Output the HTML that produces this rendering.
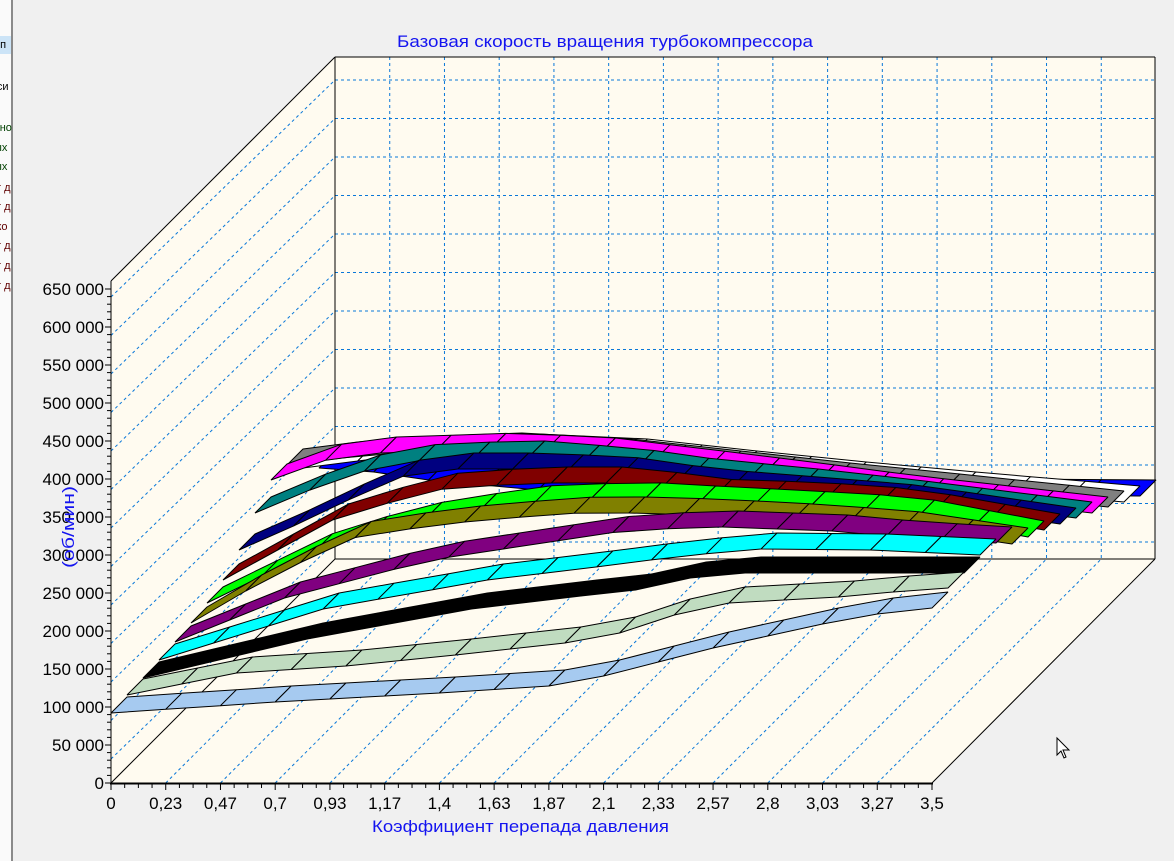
<!DOCTYPE html>
<html><head><meta charset="utf-8"><style>
html,body{margin:0;padding:0;background:#f0f0f0;width:1174px;height:861px;overflow:hidden}
svg{display:block}
text{font-family:"Liberation Sans",sans-serif}
</style></head><body>
<svg id="s" width="1174" height="861" viewBox="0 0 1174 861" xmlns="http://www.w3.org/2000/svg">
<rect x="0" y="0" width="1174" height="861" fill="#f0f0f0"/>
<rect x="0" y="0" width="11" height="861" fill="#fafafa"/>
<rect x="0" y="36" width="11" height="18" fill="#cce4f7"/>
<rect x="11" y="0" width="2" height="861" fill="#8a8a8a"/>
<g font-size="11" fill="#000">
<text x="-6" y="48">ип</text><text x="-8" y="90">кси</text>
<text x="-6" y="131" fill="#004000">ьно</text><text x="-6" y="151" fill="#004000">ых</text><text x="-6" y="170" fill="#004000">ых</text>
<text x="-4" y="191" fill="#600000">т д</text><text x="-4" y="210" fill="#600000">т д</text><text x="-6" y="230" fill="#600000">жо</text>
<text x="-4" y="249" fill="#600000">т д</text><text x="-4" y="269" fill="#600000">т д</text><text x="-4" y="289" fill="#600000">т д</text>
</g>
<defs>
<clipPath id="lw"><polygon points="111,783 111,281 335,57 335,559"/></clipPath>
</defs>
<rect x="335" y="57" width="820" height="502" fill="#fffbf0"/>
<polygon points="111,783 111,281 335,57 335,559" fill="#fffbf0"/>
<polygon points="111,783 932,783 1155,559 335,559" fill="#fffbf0"/>
<g id="grid" stroke="#0a78d8" stroke-width="1" stroke-dasharray="3,3" fill="none"></g>
<g id="frame" stroke="#000" stroke-width="1" fill="none">
<line x1="335" y1="57" x2="1155" y2="57"/>
<line x1="1155" y1="57" x2="1155" y2="559"/>
<line x1="335" y1="57" x2="335" y2="559"/>
<line x1="335" y1="559" x2="1155" y2="559"/>
<line x1="111" y1="281" x2="335" y2="57"/>
<line x1="111" y1="783" x2="335" y2="559"/>
<line x1="932" y1="783" x2="1155" y2="559"/>
<line x1="111" y1="281" x2="111" y2="784"/>
</g>
<g id="rib" stroke="#000" stroke-width="1" stroke-linejoin="bevel"></g>
<line x1="110" y1="783.5" x2="933" y2="783.5" stroke="#000" stroke-width="2"/>
<g id="ticks" stroke="#000" stroke-width="1"></g>
<g id="ylab" font-size="17" fill="#000" text-anchor="end"></g>
<g id="xlab" font-size="17" fill="#000" text-anchor="middle"></g>
<text x="397" y="47" font-size="17" fill="#1414f0" textLength="416" lengthAdjust="spacingAndGlyphs">Базовая скорость вращения турбокомпрессора</text>
<text x="372" y="832" font-size="17" fill="#1414f0" textLength="297" lengthAdjust="spacingAndGlyphs">Коэффициент перепада давления</text>
<text transform="translate(74,568) rotate(-90)" font-size="17" fill="#1414f0" textLength="82" lengthAdjust="spacingAndGlyphs">(об/мин)</text>
<polygon points="1057,738 1057,755 1061,751 1064,758 1066,757 1063,750 1069,750" fill="#fff" stroke="#000" stroke-width="1"/>
</svg>
<script>
var NS="http://www.w3.org/2000/svg";
function el(p,t,a){var e=document.createElementNS(NS,t);for(var k in a)e.setAttribute(k,a[k]);p.appendChild(e);return e;}
var g=document.getElementById('grid');
var XS=54.733;
for(var k=1;k<15;k++){var x=111+XS*k;
 el(g,'line',{x1:x,y1:783,x2:x+224,y2:559});
 el(g,'line',{x1:x+224,y1:57,x2:x+224,y2:559});}
var lwg=el(g,'g',{'clip-path':'url(#lw)'});
for(var j=-1;j<13;j++){var yb=80+38.5*j;
 if(j>=0) el(g,'line',{x1:335,y1:yb,x2:1155,y2:yb});
 el(lwg,'line',{x1:111,y1:yb+217,x2:335,y2:yb});}
var t=document.getElementById('ticks');
var YS=76/100000;
for(var v=0;v<=650000;v+=10000){var y=783-v*YS;var major=(v%50000==0);
 el(t,'line',{x1:major?105:107,y1:y,x2:111,y2:y});}
for(var k=0;k<=60;k++){var x=111+XS*k/4;el(t,'line',{x1:x,y1:784,x2:x,y2:(k%4==0)?790:788});}
var yl=document.getElementById('ylab');
for(var v=0;v<=650000;v+=50000){var y=783-v*YS;var s=v==0?'0':(Math.floor(v/1000)+' 000');
 var tx=el(yl,'text',{x:104,y:y+6});tx.textContent=s;}
var xl=document.getElementById('xlab');
var xs=['0','0,23','0,47','0,7','0,93','1,17','1,4','1,63','1,87','2,1','2,33','2,57','2,8','3,03','3,27','3,5'];
for(var k=0;k<16;k++){var tx=el(xl,'text',{x:111+XS*k,y:809});tx.textContent=xs[k];}
var S=[
['#a6caf0',[[0,713],[3,702],[6,693],[8,686],[9,676],[10,662],[11,648],[12,636],[13,624],[14,614],[15,608]]],
['#c0dcc0',[[0,711],[2,689],[4,682],[6,671],[8,659],[9,649],[10,631],[11,619],[12,616],[13,613],[14,608],[15,604]]],
['#000000',[[0,710],[3,671],[6,641],[8,628],[9,622],[10,610],[11,605],[15,605]]],
['#00ffff',[[0,708],[3,657],[6,628],[8.6,611],[9.5,604],[11,597],[13,598],[15,603]]],
['#800080',[[0,706],[2,662],[4.66,624],[8.3,594],[10,591],[12,595],[13.2,601],[15,607]]],
['#808000',[[0,703],[1.5,655],[3.1,615],[5.3,600],[7.3,592],[9.3,595],[11.1,600],[12.9,607],[15,624]]],
['#00ff00',[[0,699],[2.25,639],[4.1,613],[5.9,598],[7.7,594],[9,598],[10.8,603],[12.7,609],[15,633]]],
['#800000',[[0,692],[2,632],[3.8,602],[5.6,595],[7.4,595],[8.7,607],[10.5,610],[12.4,617],[15,642]]],
['#000080',[[0,678],[1.66,638],[2.6,610],[3.5,597],[5.3,597],[7.1,602],[8.4,613],[10.3,621],[12.1,629],[15,652]]],
['#008080',[[0,657],[1.4,625],[2.3,610],[3.2,603],[5,601],[6.8,609],[8.1,619],[10,629],[11.8,640],[15,662]]],
['#ff00ff',[[0,640],[1.06,619],[2,613],[4.2,609],[6,614],[7.8,626],[9.6,638],[11.4,651],[15,673]]],
['#808080',[[0,641],[1,634],[2,629],[4,625],[6,631],[8,643],[10,655],[12,666],[15,683]]],
['#ffffff',[[0,660],[2,646],[4,642],[6,647],[8,659],[10,670],[12,680],[15,694]]],
['#0000ff',[[0,676],[1,680],[2,688],[4,698],[10,702],[15,704]]]
];
function interp(kn,k){for(var i=0;i<kn.length-1;i++){if(k>=kn[i][0]&&k<=kn[i+1][0]){var a=kn[i],b=kn[i+1];return a[1]+(b[1]-a[1])*(k-a[0])/(b[0]-a[0]);}}return kn[kn.length-1][1];}
var r=document.getElementById('rib');
var D=16;
for(var i=S.length-1;i>=0;i--){
 var col=S[i][0],kn=S[i][1];var pts=[];
 for(var k=0;k<16;k++){pts.push(interp(kn,k));}
 var gg=el(r,'g',{fill:col});
 for(var k=0;k<15;k++){
  var x0=111+XS*k,x1=111+XS*(k+1),y0=pts[k],y1=pts[k+1];
  var d0=D*i,d1=D*(i+1);
  var p=[[x0+d0,y0-d0],[x1+d0,y1-d0],[x1+d1,y1-d1],[x0+d1,y0-d1]];
  el(gg,'polygon',{points:p.map(function(q){return q[0].toFixed(1)+','+q[1].toFixed(1)}).join(' ')});
 }
}
</script>
</body></html>
